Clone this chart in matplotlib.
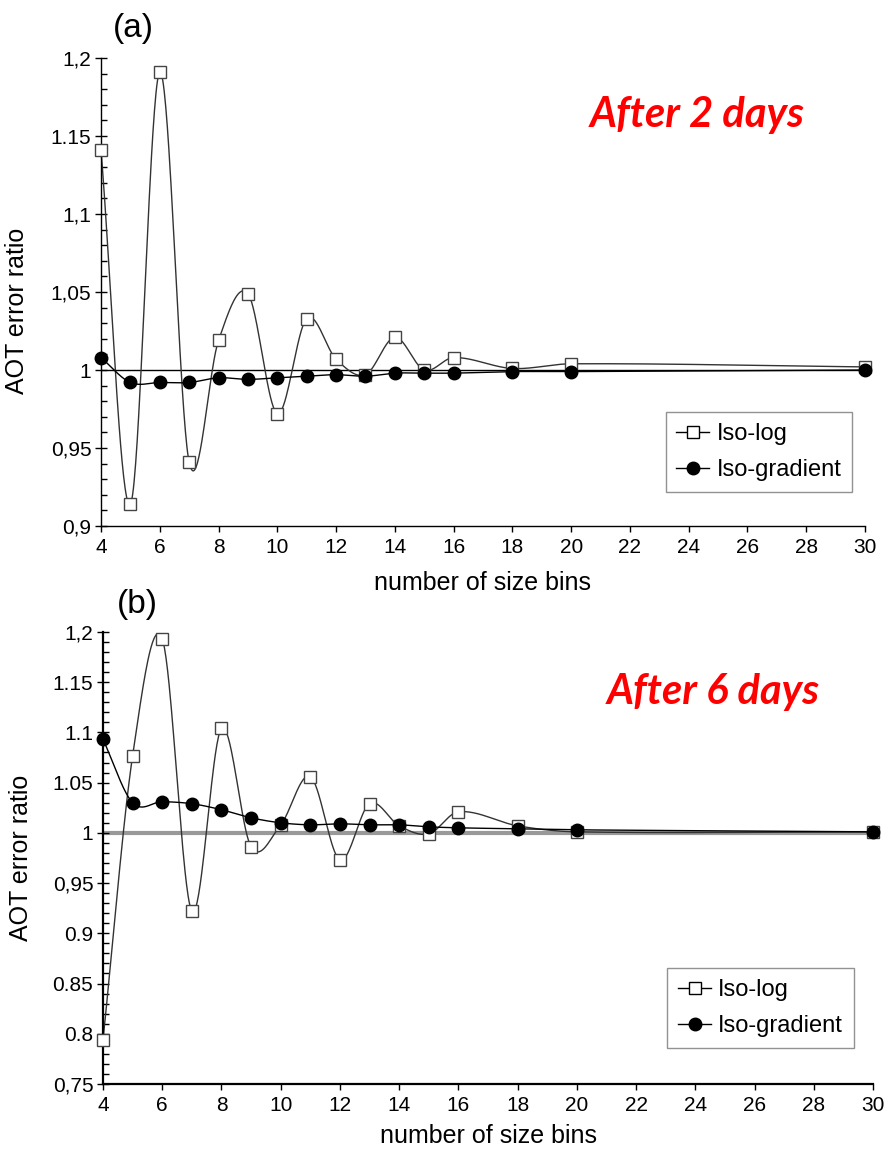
# AOT error ratio vs number of size bins, after 2 and 6 days

import numpy as np
import matplotlib
matplotlib.use("Agg")
import matplotlib.pyplot as plt
from matplotlib.lines import Line2D
from matplotlib.ticker import MultipleLocator

plt.rcParams['font.family'] = ['Liberation Sans', 'DejaVu Sans']

bins = [4, 5, 6, 7, 8, 9, 10, 11, 12, 13, 14, 15, 16, 18, 20, 30]

# panel (a): after 2 days
a_isolog = [1.141, 0.914, 1.191, 0.941, 1.019, 1.049, 0.972, 1.033, 1.007, 0.997,
            1.021, 1.000, 1.008, 1.001, 1.004, 1.002]
a_isograd = [1.008, 0.992, 0.992, 0.992, 0.995, 0.994, 0.995, 0.996, 0.997, 0.996,
             0.998, 0.998, 0.998, 0.999, 0.999, 1.000]

# panel (b): after 6 days
b_isolog = [0.794, 1.077, 1.193, 0.922, 1.104, 0.986, 1.008, 1.056, 0.973, 1.029,
            1.007, 0.999, 1.021, 1.007, 1.001, 1.001]
b_isograd = [1.093, 1.030, 1.031, 1.029, 1.023, 1.015, 1.010, 1.008, 1.009, 1.008,
             1.008, 1.006, 1.005, 1.004, 1.003, 1.001]

a_ticks = [0.9, 0.95, 1.0, 1.05, 1.1, 1.15, 1.2]
a_ticklabels = ['0,9', '0,95', '1', '1,05', '1,1', '1.15', '1,2']
b_ticks = [0.75, 0.8, 0.85, 0.9, 0.95, 1.0, 1.05, 1.1, 1.15, 1.2]
b_ticklabels = ['0,75', '0.8', '0.85', '0.9', '0,95', '1', '1.05', '1.1', '1.15', '1,2']
x_ticks = list(range(4, 31, 2))


def smooth(x, y, n=40):
    # Catmull-Rom style Hermite curve through the points (drawing only)
    x = np.asarray(x, float)
    y = np.asarray(y, float)
    m = np.zeros_like(y)
    m[1:-1] = (y[2:] - y[:-2]) / (x[2:] - x[:-2])
    m[0] = (y[1] - y[0]) / (x[1] - x[0])
    m[-1] = (y[-1] - y[-2]) / (x[-1] - x[-2])
    xs_all, ys_all = [], []
    for i in range(len(x) - 1):
        h = x[i + 1] - x[i]
        t = np.linspace(0, 1, n)
        h00 = 2 * t**3 - 3 * t**2 + 1
        h10 = t**3 - 2 * t**2 + t
        h01 = -2 * t**3 + 3 * t**2
        h11 = t**3 - t**2
        xs_all.append(x[i] + t * h)
        ys_all.append(h00 * y[i] + h10 * h * m[i] + h01 * y[i + 1] + h11 * h * m[i + 1])
    return np.concatenate(xs_all), np.concatenate(ys_all)


def panel(ax, isolog, isograd, ticks, ticklabels, ylim, refcolor, reflw, spw):
    ax.axhline(1.0, color=refcolor, lw=reflw, zorder=1)
    xs, ys = smooth(bins, isolog)
    ax.plot(xs, ys, color='#333333', lw=1.0, zorder=2, clip_on=False)
    xs, ys = smooth(bins, isograd)
    ax.plot(xs, ys, color='black', lw=1.0, zorder=3, clip_on=False)
    ax.plot(bins, isolog, ls='none', marker='s', ms=9, mfc='white', mec='#444444',
            mew=1.0, zorder=4, clip_on=False)
    ax.plot(bins, isograd, ls='none', marker='o', ms=9, mfc='black', mec='black',
            zorder=5, clip_on=False)

    ax.set_xlim(4, 30)
    ax.set_ylim(*ylim)
    ax.set_xticks(x_ticks)
    ax.set_yticks(ticks)
    ax.set_yticklabels(ticklabels)
    ax.yaxis.set_minor_locator(MultipleLocator(0.01))
    ax.tick_params(axis='x', direction='out', length=4.5, width=1, labelsize=15, pad=4)
    ax.tick_params(axis='y', which='major', direction='inout', length=8, width=1,
                   labelsize=15, pad=3)
    ax.tick_params(axis='y', which='minor', direction='in', length=4.5, width=1)
    for s in ['top', 'right']:
        ax.spines[s].set_visible(False)
    for s in ['left', 'bottom']:
        ax.spines[s].set_linewidth(spw)
    ax.set_xlabel('number of size bins', fontsize=18)
    ax.set_ylabel('AOT error ratio', fontsize=18)

    handles = [
        Line2D([], [], color='black', lw=1, marker='s', ms=9, mfc='white', mec='black'),
        Line2D([], [], color='black', lw=1, marker='o', ms=9, mfc='black', mec='black'),
    ]
    return handles


def add_legend(ax, handles, anchor):
    leg = ax.legend(handles, ['Iso-log', 'Iso-gradient'], loc='lower right',
                    bbox_to_anchor=anchor, fontsize=17, frameon=True,
                    fancybox=False, edgecolor='#777777', handlelength=1.4,
                    handletextpad=0.3, labelspacing=0.6, borderpad=0.45,
                    borderaxespad=0)
    leg.get_frame().set_linewidth(1.0)


fig = plt.figure(figsize=(8.89, 11.49), dpi=100)

ax1 = fig.add_axes([0.1136, 0.5422, 0.8594, 0.4073])
h = panel(ax1, a_isolog, a_isograd, a_ticks, a_ticklabels, (0.9, 1.2), 'black', 1.0, 1.0)
add_legend(ax1, h, (0.983, 0.073))
ax1.yaxis.set_label_coords(-0.094, 0.46)
ax1.xaxis.set_label_coords(0.5, -0.096)

ax2 = fig.add_axes([0.1159, 0.0566, 0.8661, 0.3934])
h = panel(ax2, b_isolog, b_isograd, b_ticks, b_ticklabels, (0.75, 1.2), '#999999', 3.0, 1.6)
add_legend(ax2, h, (0.975, 0.08))
ax2.yaxis.set_label_coords(-0.0916, 0.5)
ax2.xaxis.set_label_coords(0.5, -0.088)

fig.text(0.15, 0.9756, '(a)', fontsize=24, ha='center', va='center')
fig.text(0.154, 0.4735, '(b)', fontsize=24, ha='center', va='center')

fig.text(0.6637, 0.9, 'After 2 days', color='#ff0000', fontsize=30,
         family='Lato', weight='bold', style='italic', ha='left', va='center')
fig.text(0.6828, 0.3977, 'After 6 days', color='#ff0000', fontsize=30,
         family='Lato', weight='bold', style='italic', ha='left', va='center')

fig.savefig('out.png', dpi=100)
